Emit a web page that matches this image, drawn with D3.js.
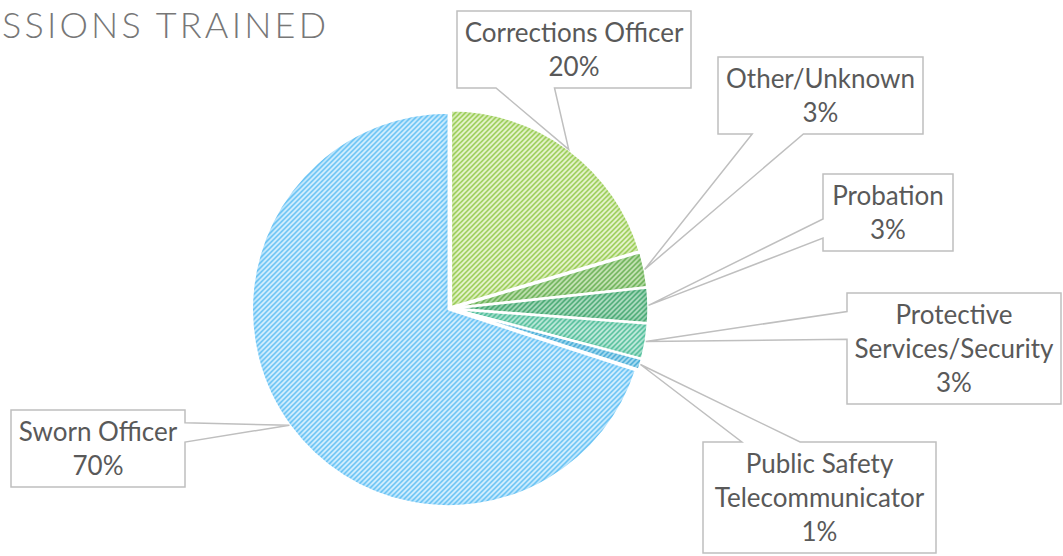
<!DOCTYPE html>
<html lang="en">
<head>
  <meta charset="UTF-8">
  <title>Professions Trained</title>
  <script src="https://d3js.org/d3.v7.min.js"></script>
  <style>
    body { margin: 0; background: #fff; }
    svg { display: block; }
  </style>
</head>
<body>
  <svg id="chart" width="1063" height="556"></svg>
  <script>
    const categories = ['Corrections Officer', 'Other/Unknown', 'Probation',
      'Protective Services/Security', 'Public Safety Telecommunicator', 'Sworn Officer'];
    const shares = [20.4, 2.9, 2.9, 2.9, 0.9, 70.0];
    // how the labels wrap in the callouts
    const labelLines = [['Corrections Officer'], ['Other/Unknown'], ['Probation'],
      ['Protective', 'Services/Security'], ['Public Safety', 'Telecommunicator'], ['Sworn Officer']];
    const stripeColors = ['#8ec744', '#5ba846', '#2f9c60', '#3db68e', '#3aa6d4', '#52baf2'];
    const fillColors = ['#ebf6d6', '#cfe8bf', '#bde3cc', '#cdeee2', '#c8eaf7', '#def3ff'];
    // callout boxes: left, top, width
    const boxes = [[457, 11, 234], [718, 57, 205], [823, 174, 130], [847, 293, 214], [703, 442, 233], [11, 410, 174]];
    const title = 'SSIONS TRAINED';

    const svg = d3.select('#chart');
    const defs = svg.append('defs');
    const cx = 450, cy = 308.5, R = 197, explode = 1.5;

    // title is cut at the left edge of the slide, only its tail is visible
    const tmp = svg.append('text')
      .attr('font-family', 'Lato, "DejaVu Sans", sans-serif')
      .attr('font-weight', 300).attr('font-size', 36)
      .text(title);
    const rawLen = tmp.node().getComputedTextLength();
    tmp.remove();
    const spacing = (326 - 2 - rawLen) / (title.length - 1);
    svg.append('text')
      .attr('x', 2).attr('y', 38)
      .attr('font-family', 'Lato, "DejaVu Sans", sans-serif')
      .attr('font-weight', 300).attr('font-size', 36)
      .attr('letter-spacing', spacing)
      .attr('fill', '#777')
      .text(title);

    // striped fills
    categories.forEach((c, i) => {
      const p = defs.append('pattern')
        .attr('id', 'pat' + i)
        .attr('patternUnits', 'userSpaceOnUse')
        .attr('width', 5).attr('height', 5);
      p.append('rect').attr('width', 5).attr('height', 5).attr('fill', fillColors[i]);
      p.append('path')
        .attr('d', 'M0,5L5,0M-1,1L1,-1M4,6L6,4')
        .attr('stroke', stripeColors[i])
        .attr('stroke-width', 1.5);
    });
    defs.append('filter').attr('id', 'soft')
      .append('feGaussianBlur').attr('stdDeviation', 2.5);

    const pie = d3.pie().sort(null).value(d => d);
    const arcs = pie(shares);
    const arc = d3.arc().innerRadius(0).outerRadius(R);
    const mid = a => (a.startAngle + a.endAngle) / 2;

    const g = svg.append('g').attr('transform', `translate(${cx},${cy})`);
    const slice = g.selectAll('g.slice')
      .data(arcs)
      .enter().append('g')
      .attr('class', 'slice')
      .attr('transform', d => `translate(${Math.sin(mid(d)) * explode},${-Math.cos(mid(d)) * explode})`);

    slice.each(function(d, i) {
      const s = d3.select(this);
      defs.append('clipPath').attr('id', 'clip' + i)
        .append('path').attr('d', arc(d));
      s.append('path')
        .attr('d', arc(d))
        .attr('fill', `url(#pat${i})`);
      // darker rim, lighter middle
      s.append('path')
        .attr('d', arc(d))
        .attr('fill', 'none')
        .attr('stroke', stripeColors[i])
        .attr('stroke-opacity', 0.3)
        .attr('stroke-width', 7)
        .attr('filter', 'url(#soft)')
        .attr('clip-path', `url(#clip${i})`);
      s.append('path')
        .attr('d', arc(d))
        .attr('fill', 'none')
        .attr('stroke', '#fff')
        .attr('stroke-width', 2.5)
        .attr('stroke-linejoin', 'round');
    });

    function callout(x, y, w, h, tx, ty) {
      const dx = (tx - (x + w / 2)) / w, dy = (ty - (y + h / 2)) / h;
      if (Math.abs(dx) > Math.abs(dy)) {
        const f = ty < y + h / 2 ? [2, 5] : [7, 10];
        const y1 = y + h * f[0] / 12, y2 = y + h * f[1] / 12;
        if (dx < 0) return `M${x},${y}H${x + w}V${y + h}H${x}V${y2}L${tx},${ty}L${x},${y1}Z`;
        return `M${x},${y}H${x + w}V${y1}L${tx},${ty}L${x + w},${y2}V${y + h}H${x}Z`;
      }
      const f = tx < x + w / 2 ? [2, 5] : [7, 10];
      const x1 = x + w * f[0] / 12, x2 = x + w * f[1] / 12;
      if (dy < 0) return `M${x},${y}H${x1}L${tx},${ty}L${x2},${y}H${x + w}V${y + h}H${x}Z`;
      return `M${x},${y}H${x + w}V${y + h}H${x2}L${tx},${ty}L${x1},${y + h}H${x}Z`;
    }

    const total = d3.sum(shares);
    const labels = svg.append('g');
    arcs.forEach((d, i) => {
      const [bx, by, bw] = boxes[i];
      const lines = labelLines[i].concat([Math.round(shares[i] / total * 100) + '%']);
      const bh = 43 + 34 * (lines.length - 1);
      const m = mid(d), rr = R + explode;
      const tx = cx + Math.sin(m) * rr, ty = cy - Math.cos(m) * rr;
      labels.append('path')
        .attr('d', callout(bx, by, bw, bh, tx, ty))
        .attr('fill', '#fff')
        .attr('stroke', '#bfbfbf')
        .attr('stroke-width', 1.5);
      labels.append('text')
        .attr('text-anchor', 'middle')
        .attr('font-family', 'Lato, Carlito, sans-serif')
        .attr('font-size', 26)
        .attr('fill', '#595959')
        .selectAll('tspan')
        .data(lines)
        .enter().append('tspan')
        .attr('x', bx + bw / 2)
        .attr('y', (l, k) => by + 31 + 34 * k)
        .text(l => l);
    });
  </script>
</body>
</html>
